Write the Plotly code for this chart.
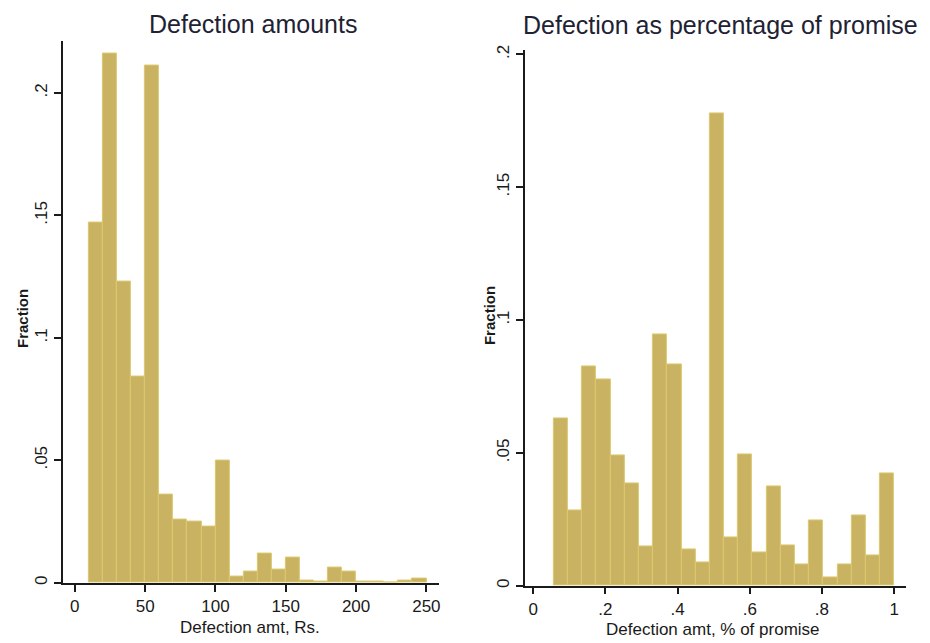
import plotly.graph_objects as go

# ---------------- data ----------------
# Left: defection amounts (Rs.), 24 bins of width 10 starting at 10
amt_bin_start = 10.0
amt_bin_width = 10.0
amt_fraction = [0.147, 0.216, 0.123, 0.084, 0.211, 0.036, 0.026, 0.025,
                0.023, 0.050, 0.0025, 0.0046, 0.012, 0.0055, 0.0103, 0.0009,
                0.0003, 0.0062, 0.0045, 0.0003, 0.0003, 0.0, 0.001, 0.0016]

# Right: defection as % of promise, 24 bins from ~0.057 to 1
pct_bin_start = 0.0571
pct_bin_width = (1.0 - 0.0571) / 24
pct_fraction = [0.063, 0.0285, 0.0825, 0.0777, 0.0491, 0.0384, 0.0146, 0.0945,
                0.0833, 0.0135, 0.0088, 0.1778, 0.0181, 0.0496, 0.0125, 0.0374,
                0.0151, 0.0079, 0.0244, 0.0031, 0.0079, 0.0264, 0.0114, 0.0421]

left_xticks = [0, 50, 100, 150, 200, 250]
left_xticktext = ["0", "50", "100", "150", "200", "250"]
left_yticks = [0, 0.05, 0.1, 0.15, 0.2]
left_yticktext = ["0", ".05", ".1", ".15", ".2"]
right_xticks = [0, 0.2, 0.4, 0.6, 0.8, 1.0]
right_xticktext = ["0", ".2", ".4", ".6", ".8", "1"]
right_yticks = [0, 0.05, 0.1, 0.15, 0.2]
right_yticktext = ["0", ".05", ".1", ".15", ".2"]

titles = ["Defection amounts", "Defection as percentage of promise"]
xtitles = ["Defection amt, Rs.", "Defection amt, % of promise"]
ytitle = "Fraction"

# ---------------- figure ----------------
W, H = 930, 643
FILL = "#C9B362"
EDGE = "#DCC86E"
FONT = "Liberation Sans, Arial, sans-serif"

amt_centers = [amt_bin_start + amt_bin_width * (i + 0.5) for i in range(len(amt_fraction))]
pct_centers = [pct_bin_start + pct_bin_width * (i + 0.5) for i in range(len(pct_fraction))]

fig = go.Figure()
fig.add_trace(go.Bar(x=amt_centers, y=amt_fraction, width=amt_bin_width,
                     marker=dict(color=FILL, line=dict(color=EDGE, width=1)),
                     xaxis="x", yaxis="y", showlegend=False))
fig.add_trace(go.Bar(x=pct_centers, y=pct_fraction, width=pct_bin_width,
                     marker=dict(color=FILL, line=dict(color=EDGE, width=1)),
                     xaxis="x2", yaxis="y2", showlegend=False))


def px_x(p):
    return p / W


def px_y(p):
    return 1 - p / H


axis_common = dict(showline=True, linecolor="#1a1a1a", linewidth=1.6,
                   ticks="outside", ticklen=7, tickcolor="#1a1a1a", tickwidth=1.6,
                   showgrid=False, zeroline=False, tickmode="array",
                   tickfont=dict(family=FONT, size=17, color="#1a1a1a"))

fig.update_layout(
    width=W, height=H,
    margin=dict(l=0, r=0, t=0, b=0),
    paper_bgcolor="white", plot_bgcolor="white",
    bargap=0,
    xaxis=dict(domain=[px_x(63), px_x(440)], range=[-8.5, 259], anchor="y",
               tickvals=left_xticks, ticktext=left_xticktext, **axis_common),
    yaxis=dict(domain=[px_y(584), px_y(35)], range=[0, 0.2214], anchor="x",
               tickvals=left_yticks, ticktext=left_yticktext, tickangle=-90, **axis_common),
    xaxis2=dict(domain=[px_x(526), px_x(908)], range=[-0.023, 1.033], anchor="y2",
                tickvals=right_xticks, ticktext=right_xticktext, **axis_common),
    yaxis2=dict(domain=[px_y(587), px_y(45)], range=[0, 0.2015], anchor="x2",
                tickvals=right_yticks, ticktext=right_yticktext, tickangle=-90, **axis_common),
)

ann = []
# titles
ann.append(dict(text=titles[0], x=px_x(254), y=px_y(18), xref="paper", yref="paper",
                showarrow=False, xanchor="center", yanchor="middle",
                font=dict(family=FONT, size=25, color="#1e2233")))
ann.append(dict(text=titles[1], x=px_x(722), y=px_y(19), xref="paper", yref="paper",
                showarrow=False, xanchor="center", yanchor="middle",
                font=dict(family=FONT, size=25, color="#1e2233")))
# x titles
ann.append(dict(text=xtitles[0], x=px_x(251), y=px_y(629), xref="paper", yref="paper",
                showarrow=False, xanchor="center", yanchor="middle",
                font=dict(family=FONT, size=17, color="#1a1a1a")))
ann.append(dict(text=xtitles[1], x=px_x(715), y=px_y(631), xref="paper", yref="paper",
                showarrow=False, xanchor="center", yanchor="middle",
                font=dict(family=FONT, size=17, color="#1a1a1a")))
# y titles
ann.append(dict(text="<b>" + ytitle + "</b>", x=px_x(22), y=px_y(316), xref="paper", yref="paper",
                showarrow=False, xanchor="center", yanchor="middle", textangle=-90,
                font=dict(family=FONT, size=15, color="#1a1a1a")))
ann.append(dict(text="<b>" + ytitle + "</b>", x=px_x(490), y=px_y(313), xref="paper", yref="paper",
                showarrow=False, xanchor="center", yanchor="middle", textangle=-90,
                font=dict(family=FONT, size=15, color="#1a1a1a")))
fig.update_layout(annotations=ann)

fig.write_html("out.html")
